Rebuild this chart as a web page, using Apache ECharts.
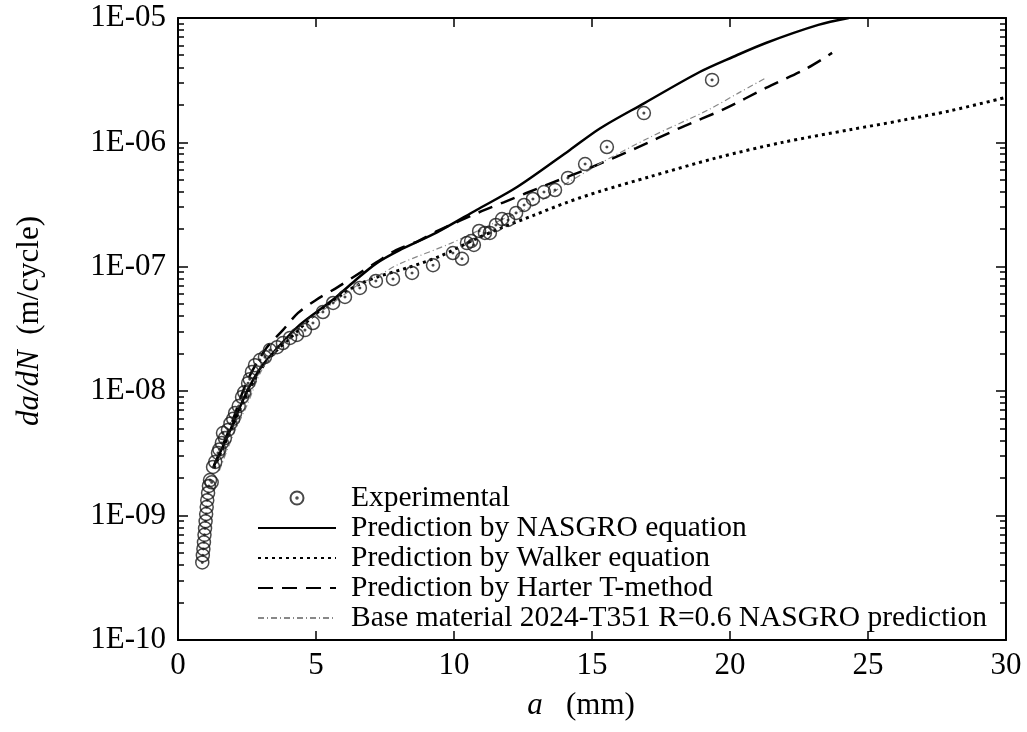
<!DOCTYPE html>
<html><head><meta charset="utf-8">
<script src="https://cdn.jsdelivr.net/npm/echarts@6/dist/echarts.min.js"></script>
<style>html,body{margin:0;padding:0;background:#fff}#c{width:1027px;height:732px}</style>
</head><body><div id="c"></div>
<script>
const expA = [0.88,0.90,0.92,0.94,0.96,0.98,1.00,1.02,1.04,1.06,1.09,1.12,1.16,1.22,1.27,1.35,1.45,1.50,1.59,1.63,1.70,1.81,1.90,2.00,2.07,2.20,2.32,2.40,2.54,2.60,2.68,2.79,2.97,3.15,3.33,3.59,3.80,4.06,4.31,4.60,4.89,5.25,5.62,6.05,6.59,7.17,7.79,8.48,9.24,9.96,10.29,10.47,10.62,10.72,10.91,11.12,11.30,11.52,11.74,11.96,12.25,12.54,12.86,13.26,13.66,14.13,14.75,15.54,16.88,19.35];
const expRate = [4.2e-10,4.8e-10,5.4e-10,6.1e-10,7.0e-10,7.9e-10,9.0e-10,1.03e-9,1.17e-9,1.33e-9,1.52e-9,1.73e-9,1.93e-9,1.85e-9,2.46e-9,2.7e-9,3.19e-9,3.4e-9,3.84e-9,4.61e-9,4.2e-9,4.88e-9,5.5e-9,6.0e-9,6.68e-9,7.6e-9,8.98e-9,9.8e-9,1.16e-8,1.25e-8,1.43e-8,1.62e-8,1.78e-8,1.88e-8,2.14e-8,2.26e-8,2.44e-8,2.68e-8,2.83e-8,3.10e-8,3.53e-8,4.33e-8,5.12e-8,5.72e-8,6.76e-8,7.69e-8,7.98e-8,8.92e-8,1.03e-7,1.29e-7,1.16e-7,1.55e-7,1.61e-7,1.50e-7,1.94e-7,1.87e-7,1.87e-7,2.17e-7,2.42e-7,2.38e-7,2.71e-7,3.14e-7,3.51e-7,3.99e-7,4.14e-7,5.18e-7,6.70e-7,9.18e-7,1.72e-6,3.18e-6];

const nasgroA = [1.3,1.9,2.5,3.0,3.5,4.4,5.6,6.4,7.2,8.0,9.4,10.8,12.3,14.2,15.3,16.9,18.9,20.1,21.3,23.2,24.3];
const nasgroRate = [2.5e-9,4.9e-9,1.0e-8,1.55e-8,2.1e-8,3.4e-8,5.4e-8,7.7e-8,1.07e-7,1.35e-7,1.9e-7,2.85e-7,4.4e-7,8.7e-7,1.3e-6,2.07e-6,3.68e-6,4.86e-6,6.3e-6,8.8e-6,1.0e-5];

const walkerA = [1.3,1.9,2.5,3.0,3.5,4.0,5.0,6.0,6.6,7.3,8.4,9.5,10.8,11.7,12.9,14.1,15.3,17.1,19.5,21.9,24.4,26.2,28.0,30.0];
const walkerRate = [2.4e-9,4.8e-9,9.5e-9,1.5e-8,2.05e-8,2.6e-8,4.2e-8,6.1e-8,7.3e-8,8.4e-8,9.96e-8,1.22e-7,1.68e-7,2.05e-7,2.6e-7,3.3e-7,4.05e-7,5.3e-7,7.5e-7,1.0e-6,1.27e-6,1.5e-6,1.8e-6,2.3e-6];

const harterA = [1.3,1.9,2.5,3.2,3.8,4.35,5.0,5.8,6.4,7.2,7.9,8.7,9.4,11.0,11.8,12.6,13.4,14.9,16.6,18.2,19.8,21.3,22.8,23.7];
const harterRate = [2.5e-9,5.2e-9,1.2e-8,2.22e-8,3.1e-8,4.26e-8,5.41e-8,6.9e-8,8.4e-8,1.09e-7,1.36e-7,1.61e-7,1.94e-7,2.8e-7,3.3e-7,3.9e-7,4.6e-7,6.2e-7,9.0e-7,1.31e-6,1.86e-6,2.74e-6,3.96e-6,5.24e-6];

const baseA = [1.5,2.0,2.5,3.0,3.5,4.5,5.5,6.5,7.3,8.0,9.9,11.7,12.9,14.1,14.9,15.3,17.1,19.2,20.3,21.3];
const baseRate = [2.3e-9,4.45e-9,7.7e-9,1.43e-8,2.07e-8,3.4e-8,4.9e-8,7.1e-8,8.6e-8,1.05e-7,1.55e-7,2.38e-7,3.14e-7,4.72e-7,6.0e-7,6.8e-7,1.1e-6,1.82e-6,2.49e-6,3.3e-6];

const seriesNames = ['Experimental','Prediction by NASGRO equation','Prediction by Walker equation','Prediction by Harter T-method','Base material 2024-T351 R=0.6 NASGRO prediction'];
const xTicks = [0,5,10,15,20,25,30];
// minor log tick positions (axis decoration): decade starts times multiples
const decadeStarts = [1e-10,1e-9,1e-8,1e-7,1e-6];
const minorMultiples = [2,3,4,5,6,7,8,9];
const xMin = 0, xMax = 30;

function zip(a,b){return a.map((v,i)=>[v,b[i]]);}
const FONT = '"Liberation Serif","Times New Roman",serif';
const FS_TICK = 31, FS_LEG = 29.5, FS_TITLE = 31;

function yLabel(v){
  const e = Math.round(Math.log10(v));
  const m = Math.abs(e);
  return '1E' + (e<0?'-':'+') + (m<10?'0':'') + m;
}

const chart = echarts.init(document.getElementById('c'), null, {renderer:'canvas'});
const axisLine = {show:true, onZero:false, lineStyle:{color:'#000', width:2}};
const ringPath = 'path://M0,-6A6,6 0 1,1 0,6A6,6 0 1,1 0,-6ZM0,-0.7A0.7,0.7 0 1,1 0,0.7A0.7,0.7 0 1,1 0,-0.7Z';
const hideSym = {opacity:0};

chart.setOption({
  animation:false,
  backgroundColor:'#fff',
  grid:{left:178, right:21, top:18, bottom:92, containLabel:false},
  xAxis:[{
    type:'value', min:xMin, max:xMax, interval:5, position:'bottom',
    axisLine, splitLine:{show:false},
    axisTick:{show:true, inside:true, length:9, lineStyle:{color:'#000', width:1.5}},
    axisLabel:{fontFamily:FONT, fontSize:FS_TICK, color:'#000', margin:10},
    name:'{i|a}   (mm)', nameLocation:'middle', nameGap:50,
    nameTextStyle:{fontFamily:FONT, fontSize:FS_TITLE, color:'#000', padding:[0,22,0,0],
      rich:{i:{fontFamily:FONT, fontSize:FS_TITLE, fontStyle:'italic', color:'#000'}}}
  },{
    type:'value', min:xMin, max:xMax, interval:5, position:'top',
    axisLine, splitLine:{show:false}, axisLabel:{show:false},
    axisTick:{show:true, inside:true, length:9, lineStyle:{color:'#000', width:1.5}}
  }],
  yAxis:[{
    type:'log', logBase:10, min:1e-10, max:1e-5, position:'left',
    axisLine, splitLine:{show:false},
    axisTick:{show:true, inside:true, length:10, lineStyle:{color:'#000', width:1.5}},
    axisLabel:{fontFamily:FONT, fontSize:FS_TICK, color:'#000', margin:12, formatter:yLabel},
    name:'{i|da/dN}  (m/cycle)', nameLocation:'middle', nameGap:133, nameRotate:90,
    nameTextStyle:{fontFamily:FONT, fontSize:FS_TITLE, color:'#000', padding:[0,0,0,16],
      rich:{i:{fontFamily:FONT, fontSize:FS_TITLE, fontStyle:'italic', color:'#000'}}}
  },{
    type:'log', logBase:10, min:1e-10, max:1e-5, position:'right',
    axisLine, splitLine:{show:false}, axisLabel:{show:false},
    axisTick:{show:true, inside:true, length:10, lineStyle:{color:'#000', width:1.5}}
  }],
  legend:{
    orient:'vertical', left:252, top:478, itemWidth:78, itemHeight:13, itemGap:0,
    textStyle:{fontFamily:FONT, fontSize:FS_LEG, color:'#000', lineHeight:29, padding:[0,0,0,10]},
    data:[
      {name:seriesNames[0]},
      {name:seriesNames[1], itemStyle:hideSym},
      {name:seriesNames[2], itemStyle:hideSym},
      {name:seriesNames[3], itemStyle:hideSym},
      {name:seriesNames[4], itemStyle:hideSym}
    ]
  },
  series:[
    {name:seriesNames[0], type:'scatter', data:zip(expA,expRate), symbol:ringPath, symbolSize:13,
     itemStyle:{color:'rgba(0,0,0,0)', borderColor:'#1a1a1a', borderWidth:1.5}, z:5},
    {name:seriesNames[1], type:'line', data:zip(nasgroA,nasgroRate), symbol:'none', smooth:0.3,
     lineStyle:{color:'#000', width:2.5, type:'solid'}, itemStyle:{color:'#000'}},
    {name:seriesNames[2], type:'line', data:zip(walkerA,walkerRate), symbol:'none', smooth:0.3,
     lineStyle:{color:'#000', width:3, type:[3,4]}, itemStyle:{color:'#000'}},
    {name:seriesNames[3], type:'line', data:zip(harterA,harterRate), symbol:'none', smooth:0.3,
     lineStyle:{color:'#000', width:2.5, type:[15,9]}, itemStyle:{color:'#000'}},
    {name:seriesNames[4], type:'line', data:zip(baseA,baseRate), symbol:'none', smooth:0.3,
     lineStyle:{color:'#888', width:1.2, type:[6,3,1,3]}, itemStyle:{color:'#888'}}
  ]
});

// Minor log ticks on left and right frame, placed through the library's scales
const minorGraphics = [];
decadeStarts.forEach(d => minorMultiples.forEach(m => {
  const v = +(d*m).toPrecision(3);
  const pL = chart.convertToPixel({xAxisIndex:0, yAxisIndex:0}, [xMin, v]);
  const pR = chart.convertToPixel({xAxisIndex:0, yAxisIndex:0}, [xMax, v]);
  if (!pL || !pR) return;
  const y = Math.round(pL[1]);
  minorGraphics.push({type:'rect', silent:true, z:100, shape:{x:pL[0], y:y-0.75, width:6, height:1.5}, style:{fill:'#000'}});
  minorGraphics.push({type:'rect', silent:true, z:100, shape:{x:pR[0]-6, y:y-0.75, width:6, height:1.5}, style:{fill:'#000'}});
}));
chart.setOption({graphic:{elements:minorGraphics}});
</script></body></html>
